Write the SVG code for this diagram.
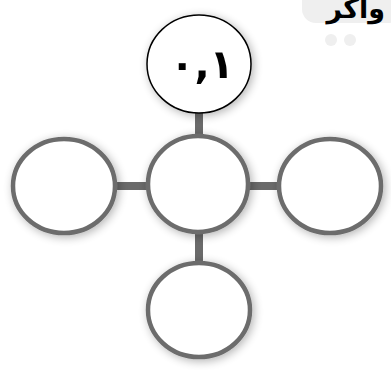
<svg xmlns="http://www.w3.org/2000/svg" width="391" height="370" viewBox="0 0 391 370">
<defs>
<filter id="sh" x="-30%" y="-30%" width="160%" height="160%">
<feGaussianBlur in="SourceAlpha" stdDeviation="5"/>
<feOffset dx="2" dy="2" result="b"/>
<feComponentTransfer><feFuncA type="linear" slope="0.3"/></feComponentTransfer>
<feMerge><feMergeNode/><feMergeNode in="SourceGraphic"/></feMerge>
</filter>
<style>
.ring{fill:#fff;stroke:#6c6c6c;stroke-width:4.5}
.top{fill:#fff;stroke:#000;stroke-width:1.5}
.con{stroke:#6a6a6a;stroke-width:8}
.lbl{font-family:"DejaVu Sans",sans-serif;font-weight:bold;fill:#000}
</style>
</defs>
<rect width="391" height="370" fill="#fff"/>
<g id="bubble">
<rect x="302" y="-20" width="100" height="43" rx="14" fill="#efefef"/>
<circle cx="331" cy="40" r="6" fill="#efefef"/>
<circle cx="350" cy="40" r="6" fill="#efefef"/>
<text class="lbl" x="385" y="18" font-size="27" text-anchor="end">واكر</text>
</g>
<g id="connectors">
<line class="con" x1="199" y1="110" x2="199" y2="138"/>
<line class="con" x1="114" y1="186" x2="150" y2="186"/>
<line class="con" x1="246" y1="186" x2="282" y2="186"/>
<line class="con" x1="199" y1="230" x2="199" y2="265"/>
</g>
<g id="n-top" filter="url(#sh)">
<ellipse class="top" cx="199" cy="64" rx="52" ry="49"/>
<text class="lbl" x="202" y="78" font-size="40" text-anchor="middle" direction="ltr">٠,١</text>
</g>
<g id="n-left" filter="url(#sh)">
<ellipse class="ring" cx="64" cy="186" rx="51" ry="47"/>
</g>
<g id="n-center" filter="url(#sh)">
<ellipse class="ring" cx="198" cy="184" rx="50" ry="48"/>
</g>
<g id="n-right" filter="url(#sh)">
<ellipse class="ring" cx="330" cy="186" rx="51" ry="47"/>
</g>
<g id="n-bottom" filter="url(#sh)">
<ellipse class="ring" cx="199" cy="310" rx="51" ry="47"/>
</g>
</svg>
